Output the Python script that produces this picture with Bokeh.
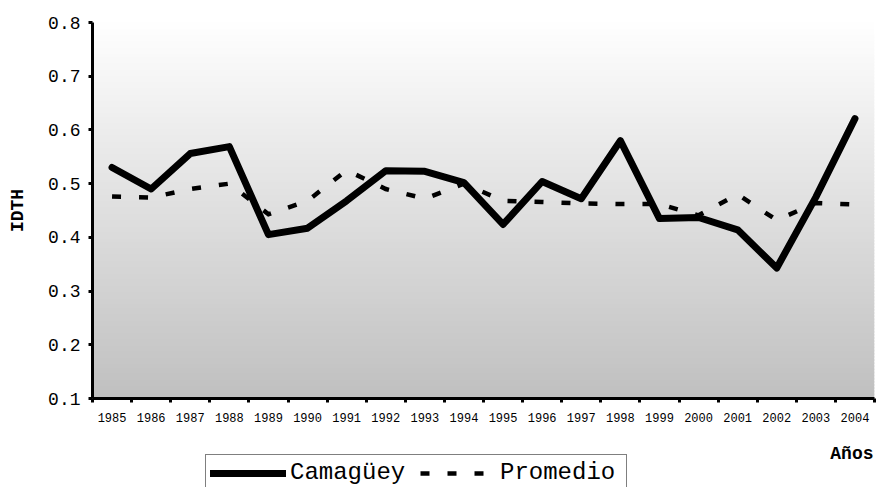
import numpy as np
from bokeh.plotting import figure
from bokeh.layouts import column
from bokeh.models import FixedTicker, Legend, LegendItem, Label, Range1d
from bokeh.embed import file_html
from bokeh.resources import INLINE

# ---- data ----
years = [1985, 1986, 1987, 1988, 1989, 1990, 1991, 1992, 1993, 1994,
         1995, 1996, 1997, 1998, 1999, 2000, 2001, 2002, 2003, 2004]
camaguey = [0.530, 0.490, 0.556, 0.569, 0.405, 0.417, 0.468, 0.524, 0.523, 0.502,
            0.424, 0.504, 0.472, 0.580, 0.435, 0.437, 0.414, 0.343, 0.475, 0.621]
promedio = [0.476, 0.474, 0.490, 0.500, 0.443, 0.468, 0.525, 0.490, 0.472, 0.500,
            0.468, 0.466, 0.463, 0.462, 0.462, 0.441, 0.480, 0.432, 0.464, 0.461]
y_ticks = [0.1, 0.2, 0.3, 0.4, 0.5, 0.6, 0.7, 0.8]
series_names = ["Camagüey", "Promedio"]
x_title = "Años"
y_title = "IDTH"

FONT = "Liberation Mono"
W = 876

x_lo, x_hi = years[0] - 0.5, years[-1] + 0.5
y_lo, y_hi = y_ticks[0], y_ticks[-1]

STYLE_CAM = dict(line_color="black", line_width=7, line_join="round", line_cap="round")
STYLE_PROM = dict(line_color="black", line_width=4.5, line_dash="9 18",
                  line_join="miter", line_cap="butt")

# ---------------- main chart ----------------
p = figure(width=W, height=440, output_backend="svg", toolbar_location=None,
           x_range=Range1d(x_lo, x_hi), y_range=Range1d(y_lo, y_hi),
           min_border_left=92, min_border_right=2, min_border_top=22,
           min_border_bottom=42)
p.outline_line_color = None
p.xgrid.visible = False
p.ygrid.visible = False
p.background_fill_color = "white"
p.border_fill_color = "white"

# gradient background of the plot area (white at top -> gray at bottom)
n = 120
edges = np.linspace(y_lo, y_hi, n + 1)
step = edges[1] - edges[0]
t = (edges[:-1] + step / 2 - y_lo) / (y_hi - y_lo)
shade = (192 + (255 - 192) * t).astype(int)
colors = ["#%02x%02x%02x" % (s, s, s) for s in shade]
p.quad(left=x_lo, right=x_hi, bottom=edges[:-1], top=edges[:-1] + step * 1.6,
       fill_color=colors, line_color=None)

# series
p.line(years, camaguey, **STYLE_CAM)
p.line(years, promedio, **STYLE_PROM)

# axes
xa = p.xaxis[0]
xa.ticker = FixedTicker(ticks=years,
                        minor_ticks=[y - 0.5 for y in years] + [years[-1] + 0.5])
xa.axis_line_width = 3
xa.axis_line_color = "black"
xa.major_tick_out = 0
xa.major_tick_in = 0
xa.minor_tick_out = 4
xa.minor_tick_in = 0
xa.minor_tick_line_width = 3
xa.minor_tick_line_color = "black"
xa.major_label_text_font = FONT
xa.major_label_text_font_size = "12px"
xa.major_label_text_color = "black"
xa.major_label_standoff = 10

ya = p.yaxis[0]
ya.ticker = FixedTicker(ticks=y_ticks)
ya.axis_line_width = 3
ya.axis_line_color = "black"
ya.major_tick_out = 4
ya.major_tick_in = 0
ya.major_tick_line_width = 3
ya.major_tick_line_color = "black"
ya.minor_tick_out = 0
ya.minor_tick_in = 0
ya.major_label_text_font = FONT
ya.major_label_text_font_size = "18px"
ya.major_label_text_color = "black"
ya.major_label_standoff = 8
ya.axis_label = y_title
ya.axis_label_text_font = FONT
ya.axis_label_text_font_style = "bold"
ya.axis_label_text_font_size = "18px"
ya.axis_label_text_color = "black"
ya.axis_label_standoff = 17

# ---------------- strip with x title and legend ----------------
# (its frame is aligned with the chart frame: left edge at x=92)
q = figure(width=W, height=47, output_backend="svg", toolbar_location=None,
           x_range=Range1d(0, 1), y_range=Range1d(0, 1),
           x_axis_type=None, y_axis_type=None,
           min_border=0, min_border_left=92, min_border_right=2,
           min_border_top=0, min_border_bottom=0)
q.outline_line_color = None
q.background_fill_color = "white"
q.border_fill_color = "white"

q.add_layout(Label(x=781, y=34, x_units="screen", y_units="screen", text=x_title,
                   text_align="right", text_baseline="alphabetic",
                   text_font=FONT, text_font_style="bold", text_font_size="18px",
                   text_color="black"))

# legend proxies: same series, outside this strip's ranges, so only their keys show
l1 = q.line(years, camaguey, **STYLE_CAM)
l2 = q.line(years, promedio, **STYLE_PROM)

legend = Legend(items=[LegendItem(label=series_names[0], renderers=[l1]),
                       LegendItem(label=series_names[1], renderers=[l2])],
                location=(113, -4), orientation="horizontal",
                glyph_width=76, glyph_height=20,
                label_text_font=FONT, label_text_font_size="24px",
                label_text_color="black", label_standoff=4, label_width=122,
                spacing=8, padding=4, margin=0,
                border_line_color="black", border_line_width=1,
                background_fill_color="white", background_fill_alpha=1.0)
q.add_layout(legend, "center")

layout = column(p, q, spacing=0)
open("out.html", "w").write(file_html(layout, INLINE))
